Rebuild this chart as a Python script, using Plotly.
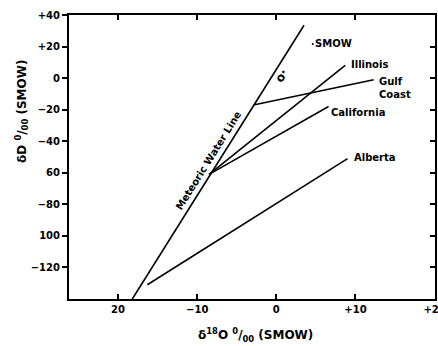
import plotly.graph_objects as go

# data (delta18O, deltaD)
mwl_x = [-18.2, 3.5]
mwl_y = [-140, 33.5]
illinois_x = [-8.5, 8.7]
illinois_y = [-61, 8]
california_x = [-8.5, 6.6]
california_y = [-61, -18]
gulf_x = [-2.9, 12.3]
gulf_y = [-17, -1]
alberta_x = [-16.3, 9.0]
alberta_y = [-131, -51]
smow_x = [4.6]
smow_y = [21.6]

x_ticks = [-20, -10, 0, 10, 20]
x_ticktext = ["20", "\u221210", "0", "+10", "+20"]
y_ticks = [40, 20, 0, -20, -40, -60, -80, -100, -120]
y_ticktext = ["+40", "+20", "0", "\u221220", "\u221240", "60", "\u221280", "100", "\u2212120"]

FONT = "DejaVu Sans, Liberation Sans, sans-serif"
fig = go.Figure()
line = dict(color="black", width=1.6)
for xs, ys in [(mwl_x, mwl_y), (illinois_x, illinois_y), (california_x, california_y),
               (gulf_x, gulf_y), (alberta_x, alberta_y)]:
    fig.add_trace(go.Scatter(x=xs, y=ys, mode="lines", line=line, showlegend=False, hoverinfo="skip"))
fig.add_trace(go.Scatter(x=smow_x, y=smow_y, mode="markers+text", marker=dict(color="black", size=2),
                         text=["SMOW"], textposition="middle right",
                         textfont=dict(family=FONT, size=10, color="black", weight="bold"),
                         showlegend=False, hoverinfo="skip"))
# invisible trace for right-side axis
fig.add_trace(go.Scatter(x=[0], y=[0], yaxis="y2", mode="markers", marker=dict(opacity=0),
                         showlegend=False, hoverinfo="skip"))

lab = dict(family=FONT, size=10, color="black", weight="bold")
annos = [
    ("Illinois", 9.2, 8.5, "left"),
    ("Gulf<br>Coast", 12.7, -6.5, "left"),
    ("California", 6.7, -21.5, "left"),
    ("Alberta", 9.5, -50.5, "left"),
]
for t, x, y, xa in annos:
    fig.add_annotation(x=x, y=y, text=t, showarrow=False, xanchor=xa, yanchor="middle",
                       font=lab, align="left")
fig.add_annotation(x=-8.6, y=-52, text="Meteoric Water Line", showarrow=False, textangle=-58,
                   font=dict(family=FONT, size=10, color="black", weight="bold"))
fig.add_annotation(x=0.6, y=1.5, text="o\u00b7", showarrow=False, textangle=-60,
                   font=dict(family=FONT, size=12, color="black", weight="bold"))
fig.add_annotation(xref="paper", yref="paper", x=-0.16, y=0.66,
                   text="\u03b4D <sup>0</sup>/<sub>00</sub> (SMOW)", showarrow=False, textangle=-90,
                   font=dict(family=FONT, size=12, color="black", weight="bold"))
fig.add_annotation(xref="paper", yref="paper", x=0.51, y=-0.127, yanchor="middle",
                   text="\u03b4<sup>18</sup>O <sup>0</sup>/<sub>00</sub> (SMOW)", showarrow=False,
                   font=dict(family=FONT, size=12, color="black", weight="bold"))

fig.update_layout(
    width=438, height=346,
    margin=dict(l=69, r=3, t=15, b=47),
    plot_bgcolor="white", paper_bgcolor="white",
    xaxis=dict(range=[-26.2, 20.05], tickvals=x_ticks, ticktext=x_ticktext, ticks="inside",
               ticklen=5, tickwidth=1.5, tickcolor="black", showline=True, linecolor="black",
               linewidth=2, mirror="ticks", showgrid=False, zeroline=False, automargin=False,
               ticklabeloverflow="allow",
               tickfont=dict(family=FONT, size=10, color="black", weight="bold")),
    yaxis=dict(range=[-140, 40], tickvals=y_ticks, ticktext=y_ticktext, ticks="outside",
               ticklen=5, tickwidth=1.5, tickcolor="black", showline=True, linecolor="black",
               linewidth=2, mirror=True, showgrid=False, zeroline=False, automargin=False,
               ticklabeloverflow="allow",
               tickfont=dict(family=FONT, size=10, color="black", weight="bold")),
    yaxis2=dict(range=[-140, 40], overlaying="y", side="right", tickvals=y_ticks, ticks="inside",
                ticklen=5, tickwidth=1.5, tickcolor="black", showticklabels=False, automargin=False,
                showline=False, showgrid=False, zeroline=False),
)
fig.write_html("out.html", config={"displayModeBar": False})
with open("out.html", encoding="utf-8") as f:
    html = f.read()
html = html.replace("<head>", "<head><style>html,body{margin:0;padding:0;overflow:hidden}</style>", 1)
with open("out.html", "w", encoding="utf-8") as f:
    f.write(html)
